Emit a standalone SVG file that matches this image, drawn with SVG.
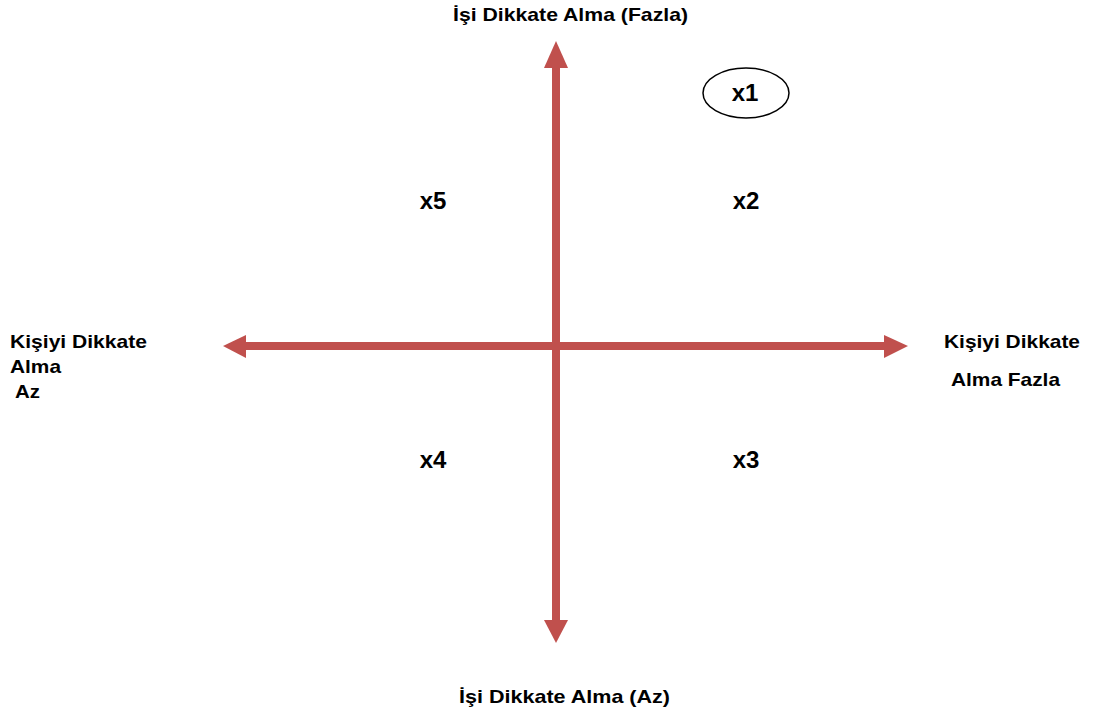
<svg xmlns="http://www.w3.org/2000/svg" width="1094" height="718" viewBox="0 0 1094 718">
<style>
.t{font-family:"Liberation Sans",Arial,sans-serif;font-weight:bold;fill:#000}
.s{font-size:19px}
.b{font-size:24px}
.ax{fill:#c0504d}
</style>
<rect width="1094" height="718" fill="#fff"/>
<g id="connectors">
<rect class="ax" x="552" y="66" width="8" height="556"/>
<polygon class="ax" points="556,41 568,68 544,68"/>
<polygon class="ax" points="556,643 568,620 544,620"/>
<rect class="ax" x="244" y="342" width="642" height="8"/>
<polygon class="ax" points="223,346 246,335 246,358"/>
<polygon class="ax" points="908,346 884,335 884,358"/>
</g>
<g id="top-label"><text class="t s" x="453" y="21" textLength="235" lengthAdjust="spacingAndGlyphs">İşi Dikkate Alma (Fazla)</text></g>
<g id="bottom-label"><text class="t s" x="459" y="703" textLength="211" lengthAdjust="spacingAndGlyphs">İşi Dikkate Alma (Az)</text></g>
<g id="left-label"><text class="t s" x="10" y="348" textLength="137" lengthAdjust="spacingAndGlyphs">Kişiyi Dikkate</text><text class="t s" x="10" y="373" textLength="51" lengthAdjust="spacingAndGlyphs">Alma</text><text class="t s" x="15" y="398" textLength="25" lengthAdjust="spacingAndGlyphs">Az</text></g>
<g id="right-label"><text class="t s" x="944" y="348" textLength="136" lengthAdjust="spacingAndGlyphs">Kişiyi Dikkate</text><text class="t s" x="951" y="386" textLength="109" lengthAdjust="spacingAndGlyphs">Alma Fazla</text></g>
<g id="x1"><ellipse cx="746" cy="93" rx="43" ry="25" fill="none" stroke="#000" stroke-width="1.5"/><text class="t b" x="745" y="101" text-anchor="middle">x1</text></g>
<g id="x2"><text class="t b" x="746" y="209" text-anchor="middle">x2</text></g>
<g id="x5"><text class="t b" x="433" y="209" text-anchor="middle">x5</text></g>
<g id="x4"><text class="t b" x="433" y="468" text-anchor="middle">x4</text></g>
<g id="x3"><text class="t b" x="746" y="468" text-anchor="middle">x3</text></g>
</svg>
